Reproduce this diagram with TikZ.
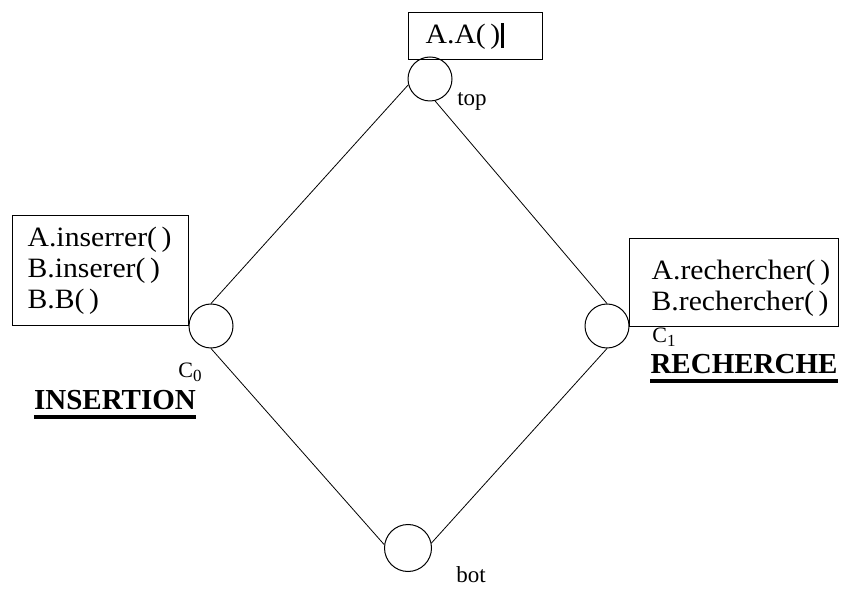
\documentclass[tikz,border=0pt]{standalone}
\usepackage{fontspec}
\setmainfont{Liberation Serif}
\newfontfamily\boxfont[FakeStretch=1.06]{Liberation Serif}
\begin{document}
\begin{tikzpicture}[x=1pt,y=-1pt,
  methbox/.style={draw,line width=1.3pt,anchor=north west,align=left,inner ysep=0pt,
    font=\boxfont\fontsize{28}{31}\selectfont},
  state/.style={draw,circle,line width=1pt,inner sep=0pt,minimum size=44pt},
  lbl/.style={inner sep=0pt,font=\fontsize{23}{26}\selectfont},
  clbl/.style={inner sep=0pt,font=\fontsize{22}{24}\selectfont},
  heading/.style={inner sep=0pt,font=\fontsize{29}{32}\selectfont\bfseries},
  conn/.style={line width=0.8pt}]
\useasboundingbox (0,0) rectangle (841,593);
% boxes
\node[methbox,minimum width=134pt,minimum height=47pt,inner xsep=17pt,text width=100pt] (topbox) at (408,12)
  {A.A(\,)\hspace{1pt}\rule[-4pt]{3pt}{25pt}};
\node[methbox,minimum width=176pt,minimum height=110pt,inner xsep=15pt,text width=146pt] (insbox) at (12,215)
  {A.inserrer(\,)\\B.inserer(\,)\\B.B(\,)};
\node[methbox,minimum width=209pt,minimum height=88pt,inner xsep=22pt,text width=165pt] (rechbox) at (629,238)
  {\rule{0pt}{30pt}A.rechercher(\,)\\B.rechercher(\,)};
% states
\node[state] (top) at (430,79) {};
\node[state] (c0) at (211,326) {};
\node[state] (c1) at (607,326) {};
\node[state,minimum size=47pt] (bot) at (408,548) {};
% labels
\node[lbl] (toplbl) at (472,101) {top};
\node[lbl] (botlbl) at (471,575) {bot};
\node[clbl] (c0lbl) at (190,372) {C\raisebox{-4pt}{\fontsize{17}{18}\selectfont 0}};
\node[clbl] (c1lbl) at (664,337) {C\raisebox{-4pt}{\fontsize{17}{18}\selectfont 1}};
\node[heading] (ins) at (115,400) {INSERTION};
\node[heading] (rech) at (744,364) {RECHERCHE};
\draw[line width=4pt] ([yshift=-7pt]ins.south west) -- ([yshift=-7pt]ins.south east);
\draw[line width=4pt] ([yshift=-7pt]rech.south west) -- ([yshift=-7pt]rech.south east);
% connectors
\draw[conn] (top.195) -- (c0.north);
\draw[conn] (top.283) -- (c1.north);
\draw[conn] (c0.south) -- (bot.172);
\draw[conn] (c1.south) -- (bot.12);
\end{tikzpicture}
\end{document}
